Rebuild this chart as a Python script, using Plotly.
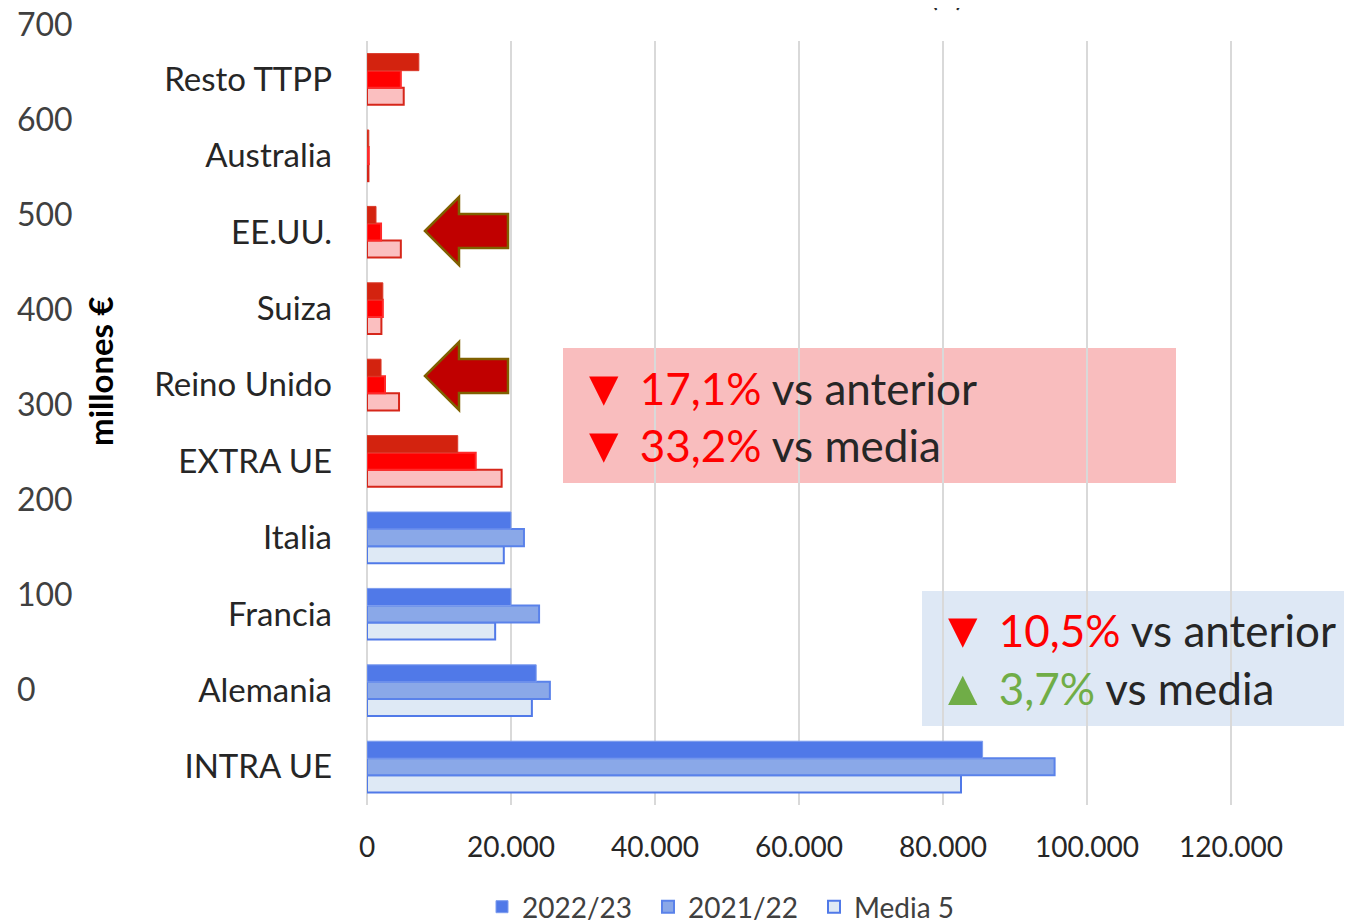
import plotly.graph_objects as go

# datos (millones de euros)
categorias = ["INTRA UE", "Alemania", "Francia", "Italia", "EXTRA UE",
              "Reino Unido", "Suiza", "EE.UU.", "Australia", "Resto TTPP"]
v_2022_23 = [85500, 23500, 20000, 20000, 12600, 1950, 2200, 1250, 250, 7200]
v_2021_22 = [95500, 25400, 23900, 21800, 15100, 2500, 2200, 1950, 250, 4700]
media_5 = [82500, 22900, 17800, 19000, 18700, 4450, 2000, 4700, 200, 5100]
es_ue = [True, True, True, True, False, False, False, False, False, False]
ticks_eje2 = [0, 100, 200, 300, 400, 500, 600, 700]

W, H = 1352, 921
OFF = 8  # margen del body de la página
L, R, T, B = 5, 5, 12, 124
PW, PH = W - L - R, H - T - B
FONT = "Lato"


def px(x):  # pixel de pantalla -> paper
    return (x - OFF - L) / PW


def py(y):
    return (H - B - (y - OFF)) / PH


def colores(azul, rojo):
    return [azul if u else rojo for u in es_ue]


fig = go.Figure()

# primero la barra de abajo del grupo
fig.add_trace(go.Bar(
    y=categorias, x=media_5, name="Media 5", orientation="h",
    marker=dict(color=colores("#DEE9F5", "#FBBFC0"),
                line=dict(color=colores("#5079E8", "#D6261A"), width=2)),
))
fig.add_trace(go.Bar(
    y=categorias, x=v_2021_22, name="2021/22", orientation="h",
    marker=dict(color=colores("#8AA8E8", "#FF0000"),
                line=dict(color=colores("#5A82EA", "#FF2A2A"), width=2)),
))
fig.add_trace(go.Bar(
    y=categorias, x=v_2022_23, name="2022/23", orientation="h",
    marker=dict(color=colores("#5079E8", "#D3230F"),
                line=dict(color=colores("#7C9CEE", "#DA3A2A"), width=1)),
))
# eje secundario vacío (0-700)
fig.add_trace(go.Scatter(x=[], y=[], xaxis="x2", yaxis="y2", showlegend=False))

x_fin = (OFF + W - R - 367) / 7.2 * 1000

fig.update_layout(
    width=W, height=H,
    margin=dict(l=L, r=R, t=T, b=B, autoexpand=False),
    paper_bgcolor="white", plot_bgcolor="rgba(0,0,0,0)",
    separators=",.",
    font=dict(family=FONT, color="#262626"),
    barmode="group", bargap=0.33, bargroupgap=0,
    xaxis=dict(domain=[px(367), 1], range=[0, x_fin],
               tickvals=[0, 20000, 40000, 60000, 80000, 100000, 120000],
               tickformat=",.0f", showgrid=True, gridcolor="#D9D9D9", gridwidth=2,
               zeroline=True, zerolinecolor="#D9D9D9", zerolinewidth=2,
               ticklabelstandoff=23, tickfont=dict(size=28, color="#262626")),
    yaxis=dict(domain=[0, py(41)], range=[-0.5, 9.5], showgrid=False,
               ticklabelstandoff=34, tickfont=dict(size=33, color="#262626")),
    xaxis2=dict(domain=[0, 1], anchor="y2", visible=False, range=[0, 1]),
    yaxis2=dict(domain=[0, 1], anchor="free", position=px(16), side="right",
                range=[-(805 - 690) / 0.95, (690 - 20) / 0.95],
                tickvals=ticks_eje2, showgrid=False, zeroline=False, showline=False,
                ticklabeloverflow="allow",
                tickfont=dict(size=32, color="#404040")),
    legend=dict(orientation="h", traceorder="reversed", x=px(482), y=py(907),
                xanchor="left", yanchor="middle", font=dict(size=28, color="#404040"),
                entrywidth=121, entrywidthmode="pixels"),
)

# flechas
shapes = []
for yc in (231, 376):
    pts = [(425, yc), (459, yc - 34), (459, yc - 17), (508, yc - 17),
           (508, yc + 17), (459, yc + 17), (459, yc + 34)]
    path = "M " + " L ".join(f"{px(a):.5f},{py(b):.5f}" for a, b in pts) + " Z"
    shapes.append(dict(type="path", xref="paper", yref="paper", path=path,
                       fillcolor="#C00000", line=dict(color="#7F6000", width=2.5)))
# cajas
shapes.append(dict(type="rect", xref="paper", yref="paper", x0=px(563), x1=px(1176),
                   y0=py(483), y1=py(348), fillcolor="#F9BDBE", line=dict(width=0),
                   layer="below"))
shapes.append(dict(type="rect", xref="paper", yref="paper", x0=px(922), x1=px(1352),
                   y0=py(726), y1=py(591), fillcolor="#DEE8F5", line=dict(width=0),
                   layer="below"))
fig.update_layout(shapes=shapes)

ROJO, VERDE = "#FF0000", "#70AD47"


def linea(x, y, simbolo, c_sim, pct, c_pct, resto):
    fig.add_annotation(
        xref="paper", yref="paper", x=px(x), y=py(y), xanchor="left", yanchor="middle",
        showarrow=False, font=dict(size=44, color="#262626", family=FONT),
        text=f"<span style='color:{c_sim};font-size:50px'>{simbolo}</span> "
             f"<span style='color:{c_pct}'>{pct}</span> {resto}")


linea(577, 386, "▼", ROJO, "17,1%", ROJO, "vs anterior")
linea(577, 443, "▼", ROJO, "33,2%", ROJO, "vs media")
linea(936, 628, "▼", ROJO, "10,5%", ROJO, "vs anterior")
linea(936, 686, "▲", VERDE, "3,7%", VERDE, "vs media")

fig.add_annotation(xref="paper", yref="paper", x=px(100), y=py(372), textangle=-90,
                   xanchor="center", yanchor="middle", showarrow=False,
                   text="<b>millones €</b>", font=dict(size=33, color="#000000"))
# título recortado en el borde superior
fig.add_annotation(xref="paper", yref="paper", x=px(947), y=py(14), xanchor="center",
                   yanchor="bottom", showarrow=False,
                   text="(€)", font=dict(size=30, color="#262626"))

fig.write_html("out.html")
